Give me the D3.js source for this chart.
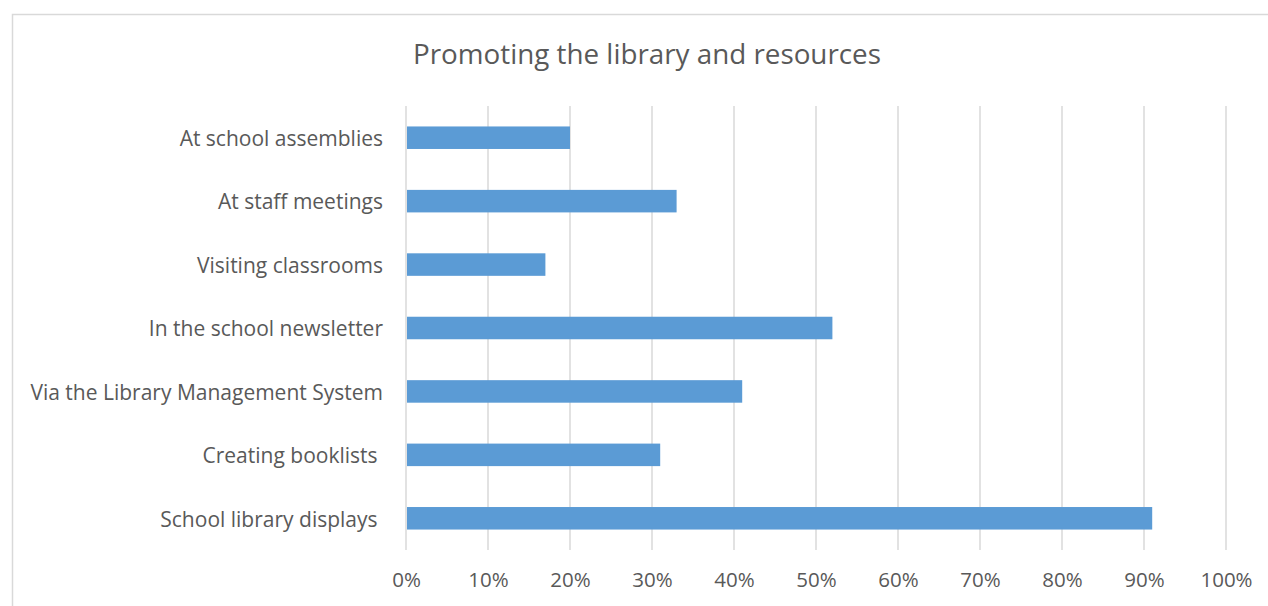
<!DOCTYPE html>
<html>
<head>
<meta charset="utf-8">
<script src="https://cdn.jsdelivr.net/npm/d3@7"></script>
<style>
    body { margin: 0; background: #fff; }
    svg text { font-family: "Open Sans", Lato, sans-serif; fill: #595959; }
</style>
</head>
<body>
<div id="chart"></div>
<script>
// Promoting the library and resources - horizontal bar chart

const categories = [
    'At school assemblies',
    'At staff meetings',
    'Visiting classrooms',
    'In the school newsletter',
    'Via the Library Management System',
    'Creating booklists ',
    'School library displays '
];
const values = [0.20, 0.33, 0.17, 0.52, 0.41, 0.31, 0.91];
const tickValues = [0, 0.1, 0.2, 0.3, 0.4, 0.5, 0.6, 0.7, 0.8, 0.9, 1.0];
const chartTitle = 'Promoting the library and resources';

const width = 1268;
const height = 606;
const margin = { top: 106, right: 42, bottom: 56, left: 406 };
const fontFamily = '"Open Sans", Lato, sans-serif';

const svg = d3.select('#chart').append('svg')
    .attr('width', width)
    .attr('height', height);

// chart frame (runs off the right/bottom edge in the reference)
svg.append('rect')
    .attr('x', 12.5)
    .attr('y', 14.5)
    .attr('width', width)
    .attr('height', height)
    .attr('fill', 'none')
    .attr('stroke', '#d9d9d9')
    .attr('stroke-width', 1.5);

svg.append('text')
    .attr('x', 647)
    .attr('y', 64)
    .attr('text-anchor', 'middle')
    .attr('font-size', 27.8)
    .text(chartTitle);

const x = d3.scaleLinear()
    .domain([0, 1])
    .range([margin.left, width - margin.right]);

const y = d3.scaleBand()
    .domain(categories)
    .range([margin.top, height - margin.bottom])
    .paddingInner(0.645)
    .paddingOuter(0.3225);

// gridlines
svg.append('g')
    .selectAll('line')
    .data(tickValues)
    .enter().append('line')
    .attr('x1', d => x(d))
    .attr('x2', d => x(d))
    .attr('y1', margin.top)
    .attr('y2', height - margin.bottom)
    .attr('stroke', '#d9d9d9')
    .attr('stroke-width', 1.5);

// bars
svg.append('g')
    .selectAll('rect')
    .data(values)
    .enter().append('rect')
    .attr('x', x(0) + 1)
    .attr('y', (d, i) => y(categories[i]))
    .attr('width', d => x(d) - x(0) - 1)
    .attr('height', y.bandwidth())
    .attr('fill', '#5b9bd5');

// x axis labels
const xAxis = d3.axisBottom(x)
    .tickValues(tickValues)
    .tickFormat(d3.format('.0%'))
    .tickSize(0)
    .tickPadding(22);

const gx = svg.append('g')
    .attr('transform', `translate(0,${height - margin.bottom})`)
    .call(xAxis);
gx.select('.domain').remove();
gx.selectAll('text')
    .attr('font-size', 20.5)
    .attr('font-family', fontFamily)
    .attr('fill', '#595959');

// category labels
const yAxis = d3.axisLeft(y)
    .tickSize(0)
    .tickPadding(23);

const gy = svg.append('g')
    .attr('transform', `translate(${margin.left},1.5)`)
    .call(yAxis);
gy.select('.domain').remove();
gy.selectAll('text')
    .attr('font-size', 21)
    .attr('font-family', fontFamily)
    .attr('fill', '#595959')
    .style('white-space', 'pre');
</script>
</body>
</html>
